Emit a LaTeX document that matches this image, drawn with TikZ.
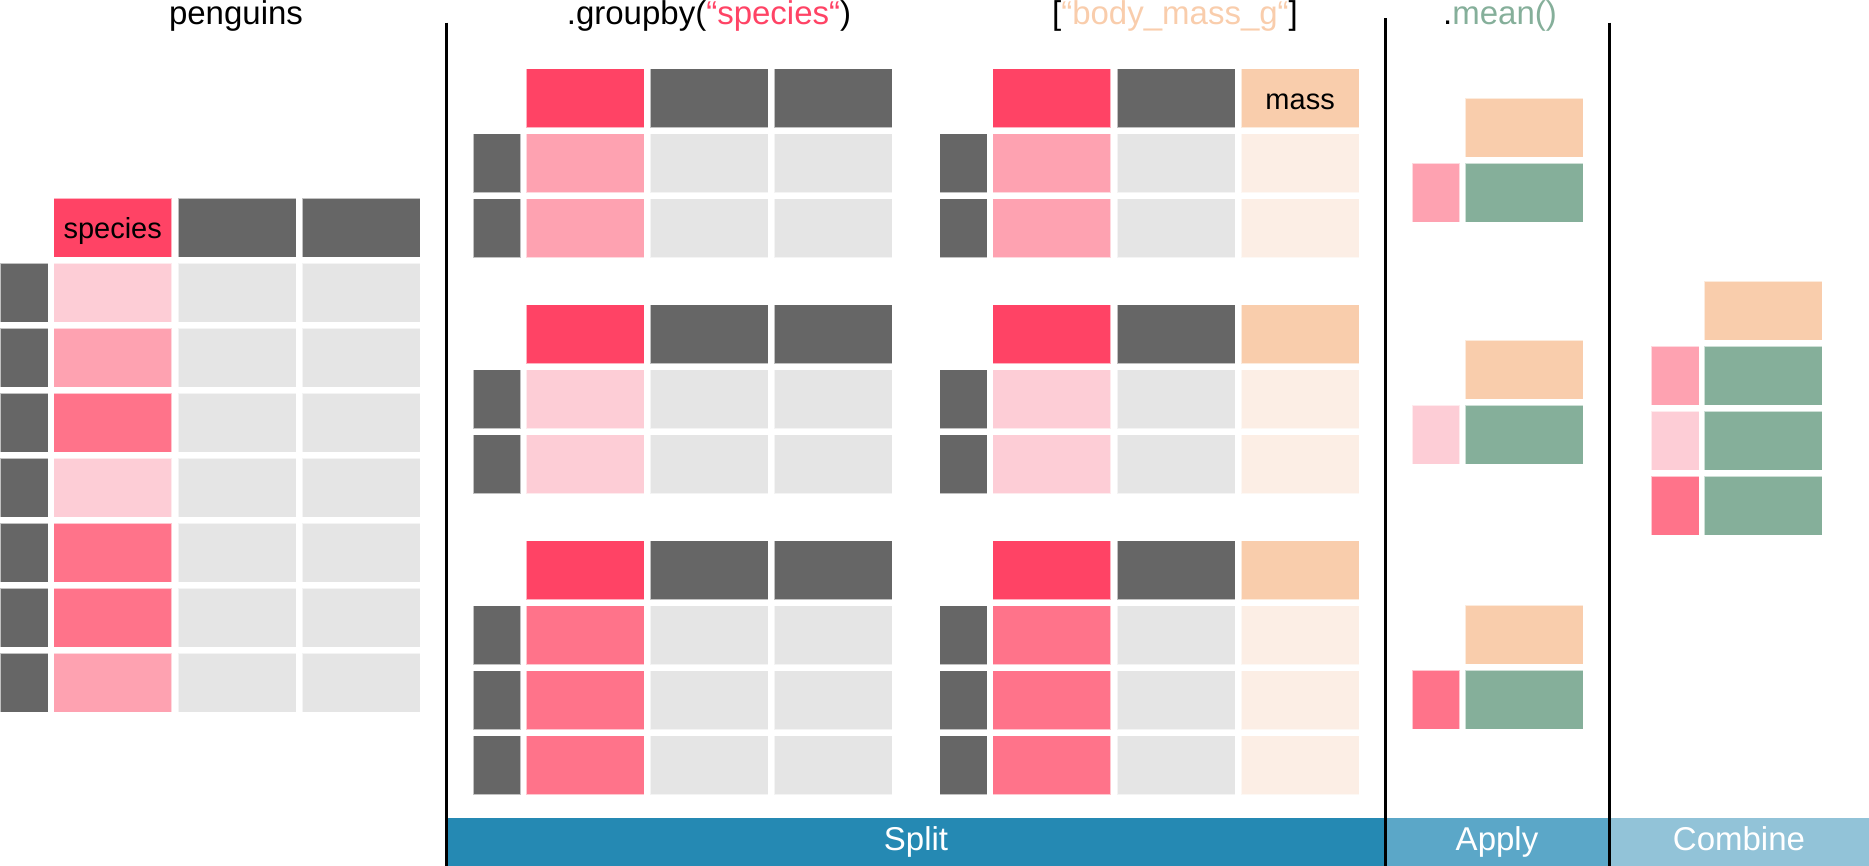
\documentclass[tikz,border=0pt]{standalone}
\usepackage{fontspec}
\setmainfont{Liberation Sans}
\definecolor{hdred}{HTML}{FF4365}
\definecolor{idxgray}{HTML}{666666}
\definecolor{cellgray}{HTML}{E5E5E5}
\definecolor{pinkA}{HTML}{FDCDD6}
\definecolor{pinkB}{HTML}{FEA2B1}
\definecolor{pinkC}{HTML}{FF738A}
\definecolor{massor}{HTML}{F9CDAC}
\definecolor{masslt}{HTML}{FCEEE5}
\definecolor{meangr}{HTML}{85AF9A}
\definecolor{splitbl}{HTML}{2589B3}
\definecolor{applybl}{HTML}{5BA7C8}
\definecolor{combbl}{HTML}{92C3D8}
\begin{document}
\begin{tikzpicture}[x=1pt,y=-1pt,
  cell/.style={anchor=north west,inner sep=0pt,minimum width=118pt,minimum height=59pt,draw=white,draw opacity=.6,line width=.8pt},
  idx/.style={cell,minimum width=47.5pt,fill=idxgray},
  title/.style={anchor=base,font=\fontsize{33}{40}\selectfont},
  lbl/.style={anchor=base,font=\fontsize{29}{35}\selectfont},
  barlbl/.style={anchor=base,text=white,font=\fontsize{33}{40}\selectfont}]
\useasboundingbox (0,0) rectangle (1869,866);

% titles
\node[title] (t-pg) at (236,25) {penguins};
\node[title] (t-gb) at (709,25) {.groupby(\textcolor{hdred}{“species“})};
\node[title] (t-col) at (1175,25) {[\textcolor{massor}{“body\_mass\_g“}]};
\node[title] (t-mean) at (1500,25) {.\textcolor{meangr}{mean()}};

% penguins table
\node[cell,fill=hdred] (pg-h1) at (53.3,198) {};
\node[cell,fill=idxgray] (pg-h2) at (177.7,198) {};
\node[cell,fill=idxgray] (pg-h3) at (301.7,198) {};
\node[lbl] (pg-lbl) at ([yshift=-11pt]pg-h1.center) {species};
\foreach \c [count=\r] in {pinkA,pinkB,pinkC,pinkA,pinkC,pinkC,pinkB} {
  \node[idx] (pg-i\r) at (0,198+65*\r) {};
  \node[cell,fill=\c] (pg-s\r) at (53.3,198+65*\r) {};
  \node[cell,fill=cellgray] (pg-b\r) at (177.7,198+65*\r) {};
  \node[cell,fill=cellgray] (pg-c\r) at (301.7,198+65*\r) {};
}

% split: one group per species
\foreach \g/\y/\n/\c in {1/68.3/2/pinkB,2/304.3/2/pinkA,3/540.3/3/pinkC} {
  \node[cell,fill=hdred] (ga\g-h1) at (526,\y) {};
  \node[cell,fill=idxgray] (ga\g-h2) at (650,\y) {};
  \node[cell,fill=idxgray] (ga\g-h3) at (774,\y) {};
  \node[cell,fill=hdred] (gb\g-h1) at (992.3,\y) {};
  \node[cell,fill=idxgray] (gb\g-h2) at (1116.7,\y) {};
  \node[cell,fill=massor] (gb\g-h3) at (1240.7,\y) {};
  \foreach \r in {1,...,\n} {
    \node[idx] (ga\g-i\r) at (472.7,\y+65*\r) {};
    \node[cell,fill=\c] (ga\g-s\r) at (526,\y+65*\r) {};
    \node[cell,fill=cellgray] (ga\g-b\r) at (650,\y+65*\r) {};
    \node[cell,fill=cellgray] (ga\g-c\r) at (774,\y+65*\r) {};
    \node[idx] (gb\g-i\r) at (939.3,\y+65*\r) {};
    \node[cell,fill=\c] (gb\g-s\r) at (992.3,\y+65*\r) {};
    \node[cell,fill=cellgray] (gb\g-b\r) at (1116.7,\y+65*\r) {};
    \node[cell,fill=masslt] (gb\g-m\r) at (1240.7,\y+65*\r) {};
  }
}
\node[lbl] (gb-lbl) at ([yshift=-11pt]gb1-h3.center) {mass};

% apply
\foreach \g/\y/\c in {1/97.7/pinkB,2/340/pinkA,3/605/pinkC} {
  \node[cell,fill=massor] (ap\g-h) at (1465,\y) {};
  \node[idx,fill=\c] (ap\g-i) at (1411.7,\y+65) {};
  \node[cell,fill=meangr] (ap\g-m) at (1465,\y+65) {};
}

% combine
\node[cell,fill=massor] (cb-h) at (1704,281) {};
\foreach \c [count=\r] in {pinkB,pinkA,pinkC} {
  \node[idx,fill=\c] (cb-i\r) at (1651,281+65*\r) {};
  \node[cell,fill=meangr] (cb-m\r) at (1704,281+65*\r) {};
}

% bottom bars
\fill[splitbl] (447,818.3) rectangle (1385,866);
\fill[applybl] (1385,818.3) rectangle (1609.3,866);
\fill[combbl] (1609.3,818.3) rectangle (1869,866);
\node[barlbl] (b-split) at (916,850) {Split};
\node[barlbl] (b-apply) at (1497,850) {Apply};
\node[barlbl] (b-comb) at (1739,850) {Combine};

% separators
\draw[line width=3pt] (446,22.7) -- (446,866);
\draw[line width=3pt] (1385,18.3) -- (1385,866);
\draw[line width=3pt] (1609.3,22.7) -- (1609.3,866);
\end{tikzpicture}
\end{document}
